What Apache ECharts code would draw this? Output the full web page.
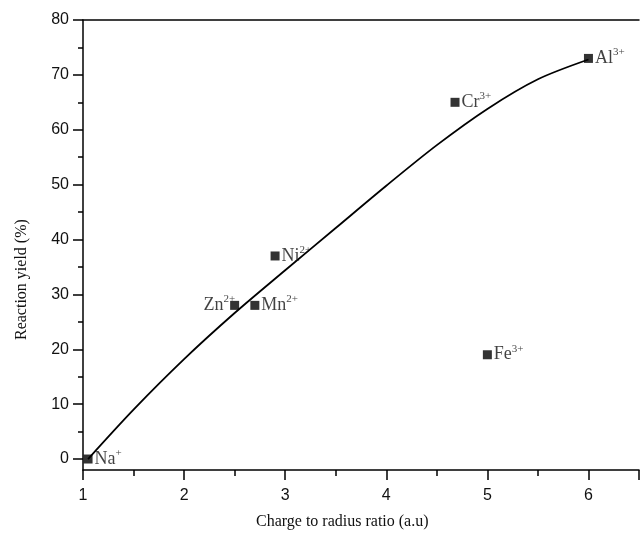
<!DOCTYPE html>
<html>
<head>
<meta charset="utf-8">
<script src="https://cdn.jsdelivr.net/npm/echarts/dist/echarts.min.js"></script>
<style>html,body{margin:0;padding:0;background:#fff}#c{width:642px;height:537px}</style>
</head>
<body>
<div id="c"></div>
<script>
// Ion data
const ions = ['Na', 'Zn', 'Mn', 'Ni', 'Fe', 'Cr', 'Al'];
const charges = ['+', '2+', '2+', '2+', '3+', '3+', '3+'];
const ratio = [1.05, 2.5, 2.7, 2.9, 5.0, 4.68, 6.0];
const yieldPct = [0, 28, 28, 37, 19, 65, 73];
// Fitted curve
const curveX = [1.05, 1.5, 2.0, 2.5, 3.0, 3.5, 4.0, 4.5, 5.0, 5.5, 6.0];
const curveY = [0, 9, 18.2, 26.6, 34.4, 42.1, 49.8, 57.2, 63.8, 69.2, 72.8];
// Axis ticks
const xTicks = [1, 2, 3, 4, 5, 6];
const yTicks = [0, 10, 20, 30, 40, 50, 60, 70, 80];
const yMinorTicks = [5, 15, 25, 35, 45, 55, 65, 75];

const serif = '"Liberation Serif", "Times New Roman", serif';
const sans = '"Liberation Sans", Arial, sans-serif';

const pts = ions.map((n, i) => ({
  name: n,
  value: [ratio[i], yieldPct[i]],
  sup: charges[i],
  label: n === 'Zn' ? { position: 'left', distance: -5 } : {}
}));

const axisLineStyle = { color: '#000', width: 1.5 };

const chart = echarts.init(document.getElementById('c'));
chart.setOption({
  animation: false,
  grid: { left: 83, right: -3.5, top: 20, bottom: 67 },
  xAxis: [{
    type: 'value', min: 1, max: 6.5, interval: 1,
    axisLine: { show: true, onZero: false, lineStyle: axisLineStyle },
    axisTick: { show: true, inside: false, length: 10, lineStyle: axisLineStyle },
    minorTick: { show: true, splitNumber: 2, length: 6, lineStyle: axisLineStyle },
    splitLine: { show: false },
    axisLabel: {
      color: '#111', fontFamily: sans, fontSize: 16, margin: 18,
      formatter: v => xTicks.includes(v) ? String(v) : ''
    }
  }, {
    type: 'value', min: 1, max: 6.5, position: 'top',
    axisLine: { show: true, onZero: false, lineStyle: axisLineStyle },
    axisTick: { show: false }, axisLabel: { show: false }, splitLine: { show: false }
  }],
  yAxis: [{
    type: 'value', min: -2, max: 80, position: 'left',
    axisLine: { show: true, onZero: false, lineStyle: axisLineStyle },
    axisTick: { show: true, inside: false, length: 10, customValues: yTicks, lineStyle: axisLineStyle },
    splitLine: { show: false },
    axisLabel: { color: '#111', fontFamily: sans, fontSize: 16, margin: 14, customValues: yTicks }
  }, {
    type: 'value', min: -2, max: 80, position: 'left', offset: 0,
    axisLine: { show: false, onZero: false },
    axisTick: { show: true, inside: false, length: 5, customValues: yMinorTicks, lineStyle: axisLineStyle },
    splitLine: { show: false },
    axisLabel: { show: false }
  }],
  graphic: [
    { type: 'text', left: 256, top: 514,
      style: { text: 'Charge to radius ratio (a.u)', font: '16px ' + serif, fill: '#111' } },
    { type: 'text', rotation: Math.PI / 2, x: 21.5, y: 340,
      style: { text: 'Reaction yield (%)', font: '16px ' + serif, fill: '#111', textAlign: 'left', textVerticalAlign: 'middle' } }
  ],
  series: [{
    type: 'line', data: curveX.map((x, i) => [x, curveY[i]]), smooth: 0.3,
    showSymbol: false, lineStyle: { color: '#000', width: 1.8 }, z: 2
  }, {
    type: 'scatter', data: pts, symbol: 'rect', symbolSize: 9,
    itemStyle: { color: '#000' }, z: 3,
    label: {
      show: true, position: 'right', distance: 2,
      formatter: p => '{b|' + p.data.name + '}{s|' + p.data.sup + '}',
      rich: {
        b: { fontFamily: serif, fontSize: 18, color: '#111' },
        s: { fontFamily: serif, fontSize: 11, color: '#111', padding: [0, 0, 12, 0] }
      }
    }
  }]
});
</script>
</body>
</html>
